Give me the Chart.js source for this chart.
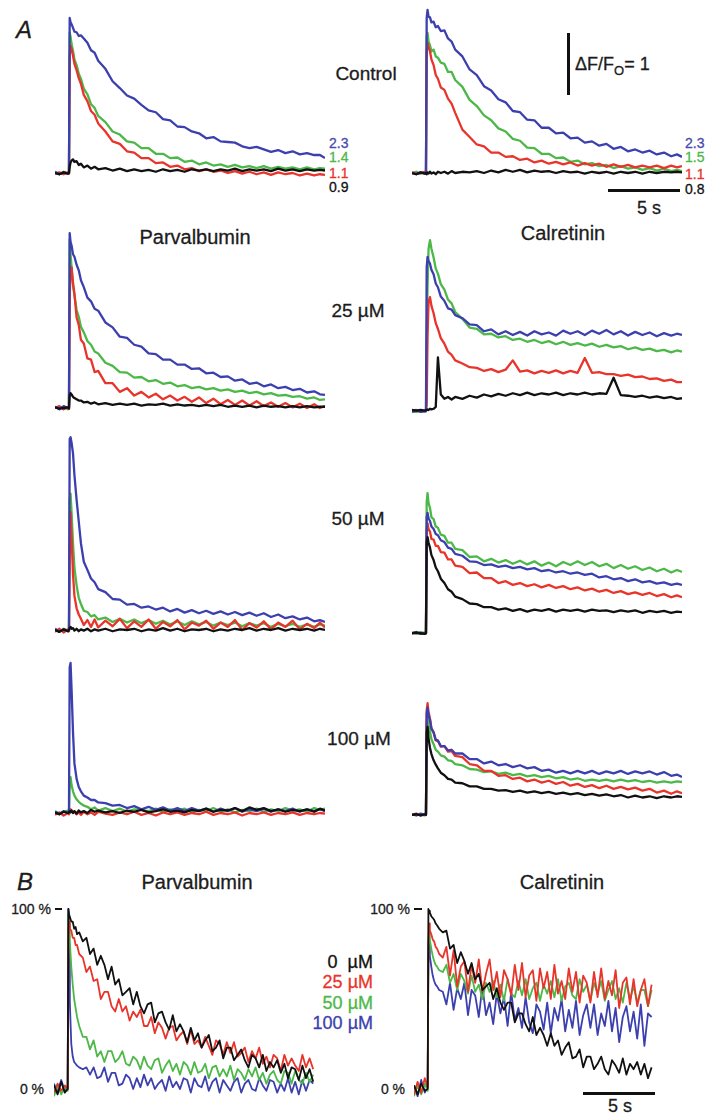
<!DOCTYPE html>
<html>
<head>
<meta charset="utf-8">
<title>Calcium transients - Parvalbumin / Calretinin</title>
<script src="https://cdn.jsdelivr.net/npm/chart.js@4.4.1/dist/chart.umd.min.js"></script>
<style>
  html, body { margin: 0; padding: 0; background: #fff; }
  #fig { position: relative; width: 723px; height: 1115px; overflow: hidden; background: #fff; }
  #fig canvas { position: absolute; }
  .t { position: absolute; font-family: 'Liberation Sans', Arial, sans-serif; white-space: nowrap; line-height: 1; color: #1c1c1c; -webkit-text-stroke: 0.3px currentColor; }
  .c { transform: translate(-50%, -50%); }
  .l { transform: translate(0, -50%); }
  .r { transform: translate(-100%, -50%); }
  .bar { position: absolute; background: #111; }
</style>
</head>
<body>
<div id="fig">
  <div class="t l" style="left:16px;top:30px;font-size:24px;font-style:italic">A</div>
  <div class="t c" style="left:366px;top:73px;font-size:19px">Control</div>
  <div class="bar" style="left:567px;top:33px;width:3px;height:62px"></div>
  <div class="t l" style="left:575px;top:64px;font-size:18px">&Delta;F/F<span style="font-size:13px;position:relative;top:5px">O</span>= 1</div>

  <div class="t l" style="left:329px;top:143px;font-size:14px;color:#4a4ab0">2.3</div>
  <div class="t l" style="left:329px;top:157px;font-size:14px;color:#4cb848">1.4</div>
  <div class="t l" style="left:329px;top:173px;font-size:14px;color:#e8342a">1.1</div>
  <div class="t l" style="left:329px;top:187px;font-size:14px;color:#111">0.9</div>
  <div class="t l" style="left:685px;top:143px;font-size:14px;color:#4a4ab0">2.3</div>
  <div class="t l" style="left:685px;top:157px;font-size:14px;color:#4cb848">1.5</div>
  <div class="t l" style="left:685px;top:174px;font-size:14px;color:#e8342a">1.1</div>
  <div class="t l" style="left:685px;top:189px;font-size:14px;color:#111">0.8</div>
  <div class="bar" style="left:608px;top:189px;width:72px;height:3px"></div>
  <div class="t c" style="left:649px;top:208px;font-size:18px">5 s</div>

  <div class="t c" style="left:195px;top:237px;font-size:20px">Parvalbumin</div>
  <div class="t c" style="left:563px;top:233px;font-size:20px">Calretinin</div>
  <div class="t c" style="left:358px;top:310px;font-size:19px">25 µM</div>
  <div class="t c" style="left:358px;top:518px;font-size:19px">50 µM</div>
  <div class="t c" style="left:359px;top:738px;font-size:19px">100 µM</div>

  <div class="t l" style="left:17px;top:882px;font-size:24px;font-style:italic">B</div>
  <div class="t c" style="left:197px;top:882px;font-size:20px">Parvalbumin</div>
  <div class="t c" style="left:562px;top:882px;font-size:20px">Calretinin</div>
  <div class="t r" style="left:51px;top:909px;font-size:14px">100 %</div>
  <div class="bar" style="left:55px;top:908px;width:7px;height:2px"></div>
  <div class="t r" style="left:44px;top:1089px;font-size:14px">0 %</div>
  <div class="t r" style="left:410px;top:909px;font-size:14px">100 %</div>
  <div class="bar" style="left:414px;top:908px;width:8px;height:2px"></div>
  <div class="t r" style="left:405px;top:1089px;font-size:14px">0 %</div>
  <div class="t r" style="left:373px;top:962px;font-size:18px;color:#111">0&nbsp;&nbsp;µM</div>
  <div class="t r" style="left:373px;top:982px;font-size:18px;color:#e8342a">25 µM</div>
  <div class="t r" style="left:373px;top:1003px;font-size:18px;color:#4cb848">50 µM</div>
  <div class="t r" style="left:373px;top:1023px;font-size:18px;color:#3c3fae">100 µM</div>
  <div class="bar" style="left:583px;top:1092px;width:72px;height:3px"></div>
  <div class="t c" style="left:620px;top:1106px;font-size:18px">5 s</div>
</div>

<script>
// time base for panel A (s), stimulus step at 1 s
const T = [0, 0.3, 0.6, 0.9, 0.97, 1.02, 1.08, 1.15, 1.25, 1.35, 1.5, 1.65, 1.8, 2.0, 2.25, 2.5, 2.75, 3.0, 3.5, 4.0,
           4.5, 5.0, 5.5, 6.0, 6.5, 7.0, 7.5, 8.0, 8.5, 9.0, 9.5, 10.0, 10.5, 11.0, 11.5, 12.0, 12.5, 13.0, 13.5, 14.0,
           14.5, 15.0, 15.5, 16.0, 16.5, 17.0, 17.5, 18.0, 18.4, 18.75];
// time base for panel B (s)
const TB = [0,0.25,0.5,0.75,0.95,1,1.05,1.1,1.2,1.3,1.4,1.5,1.6,1.75,2,2.25,2.5,2.75,3,3.25,3.5,3.75,4,4.25,4.5,4.75,5,
            5.25,5.5,5.75,6,6.25,6.5,6.75,7,7.25,7.5,7.75,8,8.25,8.5,8.75,9,9.25,9.5,9.75,10,10.25,10.5,10.75,11,11.25,
            11.5,11.75,12,12.25,12.5,12.75,13,13.25,13.5,13.75,14,14.25,14.5,14.75,15,15.25,15.5,15.75,16,16.25,16.5,
            16.75,17,17.25,17.5,17.75,18];

const seriesNames = ['0 µM', '25 µM', '50 µM', '100 µM'];

// Panel A, dF/F0 -- Control, Parvalbumin column
const ctlP_black = [0.00,-0.02,0.01,-0.01,0.00,0.10,0.17,0.20,0.22,0.18,0.19,0.13,0.15,0.09,0.12,0.07,0.10,0.06,0.08,0.04,0.07,0.03,0.06,0.03,0.05,0.02,0.06,0.03,0.05,0.02,0.06,0.04,0.06,0.03,0.06,0.04,0.07,0.03,0.06,0.04,0.06,0.03,0.07,0.04,0.06,0.03,0.06,0.04,0.05,0.04];
const ctlP_red = [-0.01,0.01,-0.02,0.01,-0.01,1.90,2.05,2.00,1.89,1.76,1.66,1.53,1.44,1.26,1.16,1.00,0.94,0.80,0.67,0.51,0.47,0.35,0.33,0.24,0.24,0.16,0.17,0.10,0.12,0.06,0.08,0.03,0.06,0.02,0.04,0.00,0.03,-0.01,0.02,-0.02,0.01,-0.03,0.01,-0.02,0.00,-0.04,-0.01,-0.04,-0.02,-0.03];
const ctlP_green = [0.01,-0.02,0.02,-0.01,0.00,2.26,2.20,2.08,1.97,1.83,1.74,1.60,1.52,1.36,1.27,1.11,1.05,0.92,0.82,0.67,0.62,0.51,0.49,0.40,0.40,0.31,0.31,0.24,0.25,0.18,0.20,0.14,0.17,0.12,0.14,0.10,0.13,0.09,0.11,0.08,0.11,0.07,0.10,0.07,0.09,0.06,0.09,0.06,0.08,0.07];
const ctlP_blue = [0.02,-0.02,0.01,-0.01,0.00,2.50,2.43,2.40,2.34,2.28,2.27,2.21,2.22,2.17,2.10,1.98,1.94,1.81,1.68,1.48,1.37,1.25,1.20,1.10,1.01,0.98,0.87,0.85,0.75,0.74,0.67,0.64,0.56,0.58,0.51,0.50,0.49,0.43,0.40,0.42,0.38,0.34,0.37,0.32,0.35,0.30,0.32,0.29,0.29,0.24];

// Control, Calretinin column
const ctlC_black = [0.00,-0.02,0.01,-0.01,0.00,-0.02,0.01,-0.01,0.02,-0.01,0.01,-0.02,0.02,0.00,0.02,-0.01,0.03,0.00,0.02,0.01,0.03,0.00,0.04,0.01,0.05,0.02,0.05,0.01,0.04,0.02,0.03,0.00,0.03,0.01,0.02,-0.01,0.02,0.00,0.02,-0.01,0.02,0.00,0.02,-0.01,0.02,0.00,0.02,0.01,0.02,0.01];
const ctlC_red = [0.01,-0.01,0.00,0.02,0.00,1.95,2.10,2.03,1.96,1.83,1.74,1.58,1.52,1.38,1.34,1.20,1.12,0.97,0.70,0.58,0.46,0.43,0.33,0.33,0.26,0.27,0.21,0.23,0.17,0.20,0.15,0.18,0.14,0.17,0.12,0.16,0.12,0.15,0.10,0.14,0.10,0.13,0.09,0.12,0.09,0.12,0.08,0.12,0.09,0.11];
const ctlC_green = [0.00,0.02,-0.01,0.01,0.00,2.20,2.26,2.12,2.06,1.96,1.99,1.88,1.86,1.78,1.76,1.63,1.63,1.50,1.39,1.18,1.08,0.93,0.85,0.72,0.67,0.55,0.52,0.41,0.40,0.31,0.31,0.24,0.25,0.18,0.20,0.14,0.16,0.11,0.13,0.08,0.11,0.07,0.09,0.05,0.08,0.04,0.07,0.03,0.05,0.03];
const ctlC_blue = [0.00,-0.02,0.01,-0.01,0.00,2.50,2.63,2.52,2.51,2.43,2.44,2.35,2.37,2.29,2.30,2.17,2.12,1.99,1.88,1.67,1.58,1.40,1.33,1.19,1.14,1.00,0.98,0.86,0.85,0.73,0.73,0.64,0.65,0.56,0.57,0.49,0.51,0.44,0.47,0.39,0.42,0.35,0.38,0.33,0.36,0.30,0.33,0.27,0.30,0.26];

// 25 µM
const p25_black = [0.01,-0.01,0.00,0.01,-0.01,0.20,0.24,0.22,0.18,0.16,0.14,0.12,0.12,0.09,0.10,0.07,0.09,0.06,0.08,0.05,0.07,0.05,0.07,0.04,0.06,0.05,0.07,0.04,0.06,0.04,0.05,0.03,0.05,0.03,0.05,0.02,0.04,0.02,0.04,0.01,0.04,0.02,0.03,0.01,0.03,0.01,0.03,0.01,0.02,0.02];
const p25_red = [0.00,0.03,-0.02,0.01,-0.01,1.80,2.20,2.27,2.02,1.84,1.46,1.34,1.10,1.04,0.80,0.78,0.58,0.60,0.40,0.40,0.26,0.32,0.20,0.26,0.17,0.23,0.14,0.20,0.12,0.18,0.10,0.17,0.08,0.15,0.06,0.13,0.05,0.12,0.04,0.11,0.03,0.09,0.02,0.08,0.01,0.07,0.00,0.06,0.00,0.03];
const p25_green = [0.01,-0.01,0.02,-0.02,0.00,2.72,2.48,2.27,1.98,1.82,1.58,1.47,1.31,1.22,1.08,1.02,0.91,0.88,0.73,0.68,0.58,0.57,0.49,0.50,0.43,0.45,0.39,0.41,0.35,0.37,0.32,0.34,0.30,0.32,0.28,0.30,0.26,0.28,0.24,0.26,0.22,0.24,0.20,0.21,0.18,0.19,0.15,0.17,0.13,0.14];
const p25_blue = [0.02,-0.02,0.03,0.00,0.01,2.82,2.68,2.62,2.48,2.44,2.31,2.22,2.06,1.95,1.78,1.72,1.60,1.57,1.38,1.30,1.15,1.13,1.02,0.99,0.88,0.87,0.78,0.78,0.70,0.70,0.63,0.64,0.56,0.57,0.50,0.51,0.44,0.46,0.39,0.41,0.35,0.38,0.32,0.34,0.29,0.31,0.25,0.27,0.22,0.21];
const c25_black = [0.00,-0.01,0.00,-0.01,0.00,0.00,0.01,0.00,0.02,0.01,0.02,0.05,0.85,0.25,0.18,0.21,0.17,0.21,0.18,0.23,0.20,0.25,0.22,0.26,0.23,0.27,0.24,0.28,0.24,0.27,0.25,0.28,0.24,0.27,0.25,0.28,0.25,0.27,0.26,0.52,0.24,0.23,0.21,0.23,0.20,0.22,0.19,0.21,0.18,0.19];
const c25_red = [-0.01,0.00,-0.02,-0.01,-0.01,0.10,1.20,1.75,1.82,1.68,1.56,1.40,1.31,1.16,1.07,0.94,0.89,0.80,0.75,0.69,0.68,0.63,0.66,0.61,0.65,0.80,0.62,0.64,0.59,0.63,0.60,0.64,0.59,0.63,0.60,0.84,0.60,0.61,0.58,0.58,0.55,0.57,0.53,0.54,0.50,0.51,0.47,0.49,0.45,0.45];
const c25_green = [-0.02,-0.03,-0.01,-0.02,-0.02,1.00,2.00,2.60,2.74,2.60,2.46,2.28,2.20,2.03,1.94,1.78,1.72,1.58,1.47,1.33,1.31,1.22,1.23,1.17,1.19,1.13,1.15,1.10,1.13,1.08,1.11,1.06,1.10,1.05,1.08,1.04,1.07,1.02,1.05,1.01,1.03,0.98,1.01,0.97,0.99,0.95,0.97,0.93,0.96,0.94];
const c25_blue = [-0.03,-0.01,-0.03,-0.02,-0.02,2.30,2.47,2.40,2.36,2.26,2.19,2.04,1.98,1.83,1.76,1.64,1.62,1.53,1.48,1.38,1.37,1.27,1.30,1.22,1.27,1.21,1.26,1.20,1.27,1.22,1.25,1.20,1.28,1.23,1.27,1.21,1.28,1.23,1.29,1.22,1.27,1.20,1.26,1.21,1.25,1.19,1.24,1.20,1.23,1.21];

// 50 µM
const p50_black = [0.00,-0.03,0.01,-0.02,0.00,0.03,0.05,0.02,0.03,-0.01,0.02,-0.02,0.01,-0.01,0.02,-0.02,0.01,-0.01,0.02,-0.02,0.01,0.00,0.02,-0.02,0.01,-0.01,0.03,-0.01,0.02,-0.02,0.01,0.00,0.02,-0.02,0.01,-0.01,0.02,0.00,0.03,-0.01,0.02,0.00,0.03,-0.01,0.02,0.00,0.02,-0.01,0.02,0.00];
const p50_red = [-0.03,0.02,-0.04,0.01,-0.02,1.20,1.90,1.50,0.90,0.55,0.35,0.25,0.18,0.08,0.16,0.05,0.17,0.04,0.15,0.06,0.18,0.03,0.14,0.05,0.17,0.02,0.13,0.06,0.16,0.01,0.12,0.07,0.15,0.02,0.12,0.05,0.16,0.00,0.11,0.04,0.14,0.01,0.12,0.05,0.15,0.01,0.10,0.03,0.12,0.04];
const p50_green = [0.01,-0.02,0.02,-0.01,0.00,2.10,2.20,1.90,1.40,1.00,0.72,0.52,0.42,0.31,0.29,0.22,0.24,0.17,0.20,0.13,0.18,0.12,0.17,0.11,0.16,0.10,0.15,0.09,0.14,0.08,0.14,0.09,0.13,0.07,0.12,0.08,0.12,0.06,0.11,0.07,0.11,0.05,0.10,0.06,0.10,0.05,0.09,0.05,0.09,0.07];
const p50_blue = [0.02,-0.03,0.01,-0.02,0.00,3.08,3.11,3.02,2.85,2.50,2.10,1.75,1.40,1.10,0.97,0.83,0.77,0.66,0.61,0.50,0.49,0.41,0.42,0.36,0.38,0.33,0.36,0.30,0.34,0.28,0.32,0.27,0.31,0.26,0.30,0.25,0.29,0.24,0.28,0.23,0.27,0.21,0.25,0.19,0.22,0.17,0.20,0.14,0.16,0.13];
const c50_black = [-0.02,-0.01,-0.02,-0.03,-0.02,1.45,1.53,1.44,1.36,1.24,1.16,1.04,0.98,0.86,0.79,0.69,0.65,0.57,0.53,0.46,0.45,0.40,0.40,0.36,0.38,0.34,0.37,0.33,0.36,0.34,0.37,0.33,0.36,0.34,0.36,0.33,0.36,0.34,0.35,0.32,0.35,0.33,0.35,0.31,0.34,0.32,0.34,0.31,0.33,0.32];
const c50_red = [-0.02,-0.01,-0.03,-0.02,-0.02,1.65,1.75,1.66,1.62,1.50,1.49,1.39,1.39,1.29,1.28,1.17,1.17,1.07,1.05,0.95,0.96,0.87,0.87,0.79,0.82,0.76,0.79,0.74,0.77,0.72,0.76,0.71,0.74,0.69,0.72,0.67,0.70,0.65,0.68,0.63,0.66,0.61,0.64,0.60,0.63,0.58,0.61,0.56,0.59,0.56];
const c50_green = [-0.01,-0.03,0.00,-0.02,-0.01,2.10,2.24,2.08,2.00,1.85,1.82,1.70,1.68,1.57,1.55,1.44,1.44,1.34,1.32,1.21,1.22,1.14,1.18,1.12,1.16,1.10,1.15,1.09,1.14,1.07,1.12,1.06,1.13,1.08,1.14,1.08,1.13,1.06,1.10,1.03,1.08,1.02,1.06,1.00,1.04,0.98,1.02,0.96,1.00,0.97];
const c50_blue = [-0.02,0.00,-0.03,-0.01,-0.02,1.85,1.92,1.83,1.79,1.70,1.66,1.58,1.56,1.48,1.45,1.36,1.34,1.26,1.23,1.14,1.13,1.08,1.09,1.05,1.07,1.03,1.05,1.01,1.03,0.98,1.00,0.96,0.98,0.94,0.96,0.92,0.94,0.88,0.90,0.85,0.87,0.82,0.85,0.80,0.82,0.78,0.80,0.76,0.78,0.76];

// 100 µM
const p100_black = [0.01,-0.02,0.02,0.00,0.01,0.03,0.01,0.04,0.00,0.03,-0.01,0.04,0.01,0.03,0.00,0.05,0.02,0.04,0.01,0.03,0.00,0.04,0.02,0.05,0.01,0.03,0.06,0.02,0.04,0.01,0.05,0.03,0.07,0.02,0.05,0.04,0.08,0.03,0.09,0.05,0.08,0.03,0.06,0.02,0.05,0.03,0.06,0.02,0.07,0.04];
const p100_red = [-0.03,0.01,-0.04,0.00,-0.02,0.02,0.06,0.04,0.01,0.03,-0.02,0.01,-0.03,0.02,-0.02,0.01,-0.03,0.02,-0.01,-0.03,0.01,-0.02,0.02,-0.03,0.00,-0.04,0.01,-0.02,0.01,-0.03,0.00,-0.02,0.02,-0.03,0.00,-0.02,0.01,-0.04,0.00,-0.02,0.01,-0.03,0.00,-0.02,0.01,-0.03,0.00,-0.02,0.00,-0.01];
const p100_green = [0.03,-0.01,0.02,0.04,0.00,0.50,0.58,0.45,0.35,0.28,0.22,0.18,0.15,0.12,0.10,0.06,0.09,0.04,0.08,0.03,0.07,0.02,0.06,0.05,0.03,0.07,0.02,0.06,0.04,0.07,0.01,0.05,0.03,0.08,0.02,0.06,0.01,0.05,0.03,0.07,0.02,0.06,0.03,0.08,0.04,0.06,0.02,0.08,0.05,0.07];
const p100_blue = [0.02,-0.02,0.03,0.00,0.01,2.35,2.42,2.00,1.30,0.80,0.55,0.42,0.35,0.28,0.25,0.21,0.21,0.17,0.16,0.12,0.13,0.08,0.11,0.06,0.10,0.05,0.09,0.04,0.08,0.03,0.08,0.04,0.07,0.02,0.07,0.03,0.08,0.02,0.06,0.03,0.07,0.02,0.06,0.03,0.07,0.02,0.06,0.03,0.06,0.03];
const c100_black = [-0.03,-0.02,-0.04,-0.02,-0.03,1.30,1.39,1.20,1.05,0.95,0.85,0.78,0.72,0.65,0.61,0.55,0.54,0.49,0.48,0.43,0.43,0.39,0.39,0.36,0.37,0.34,0.36,0.33,0.35,0.32,0.34,0.31,0.33,0.30,0.32,0.29,0.31,0.28,0.30,0.27,0.29,0.25,0.28,0.25,0.27,0.24,0.27,0.25,0.27,0.26];
const c100_red = [-0.03,-0.01,-0.04,-0.02,-0.02,1.65,1.77,1.63,1.52,1.36,1.30,1.17,1.16,1.07,1.08,0.99,1.00,0.92,0.90,0.79,0.77,0.68,0.68,0.60,0.61,0.55,0.57,0.51,0.54,0.49,0.52,0.47,0.50,0.44,0.47,0.42,0.45,0.40,0.44,0.39,0.42,0.38,0.41,0.36,0.39,0.33,0.36,0.31,0.35,0.32];
const c100_green = [-0.03,-0.02,-0.03,-0.04,-0.02,1.45,1.55,1.42,1.31,1.19,1.11,1.02,0.99,0.93,0.91,0.85,0.84,0.79,0.77,0.71,0.70,0.66,0.67,0.63,0.65,0.61,0.63,0.59,0.61,0.58,0.60,0.56,0.58,0.54,0.56,0.52,0.54,0.52,0.54,0.51,0.54,0.51,0.53,0.50,0.52,0.49,0.51,0.49,0.51,0.50];
const c100_blue = [-0.02,-0.04,-0.01,-0.03,-0.02,1.60,1.70,1.58,1.50,1.36,1.30,1.18,1.17,1.08,1.08,1.01,1.02,0.96,0.96,0.87,0.87,0.80,0.83,0.77,0.79,0.74,0.77,0.72,0.74,0.68,0.70,0.65,0.68,0.64,0.68,0.64,0.68,0.63,0.67,0.64,0.68,0.63,0.67,0.64,0.67,0.62,0.66,0.60,0.62,0.58];

// Panel B, normalised to peak (%), sampled on TB
const nP_black = [2,-3,4,-2,0,100,97,97,93,93,89,90,86,87,82,
  84,75,78,69,74,69,61,68,58,61,52,54,56,47,54,46,42,47,48,37,42,43,37,33,41,32,36,32,26,34,
  27,31,23,27,30,21,23,27,17,23,23,16,19,22,16,12,19,17,12,19,10,15,12,16,9,14,6,12,11,5,13,6,11,4];
const nP_red = [-2,3,-1,2,0,85,93,89,88,84,84,80,80,75,73,
  65,68,60,61,50,54,54,46,43,50,43,46,38,43,40,44,35,35,40,31,37,34,28,34,35,27,30,32,25,33,
  25,27,23,29,24,19,27,25,19,26,20,26,18,20,23,15,21,17,23,14,18,12,19,17,10,19,13,17,13,10,19,12,17,11];
const nP_green = [-4,2,-3,1,-1,98,92,82,68,58,50,45,40,35,29,
  29,22,27,18,21,15,21,21,15,17,21,14,13,18,16,11,18,13,11,16,17,9,13,16,10,14,8,15,13,8,
  15,9,10,14,6,12,13,7,11,7,13,5,11,9,5,11,7,12,5,9,3,8,10,5,3,10,9,3,10,5,3,9,4,8];
const nP_blue = [3,-2,5,-1,1,100,75,48,25,18,15,14,13,12,11,
  12,8,12,6,7,12,4,9,9,2,3,8,6,0,6,1,8,2,6,0,3,5,-1,7,1,4,0,6,5,-2,
  6,2,1,7,-1,4,6,-2,5,2,-1,4,6,-2,3,5,0,-1,6,2,-1,5,4,-2,3,-1,6,-2,4,-3,5,-1,5,3];
const nC_black = [2,-3,3,-1,0,100,99,98,96,95,94,92,91,89,87,
  88,78,80,70,76,71,64,70,61,64,55,57,59,50,56,48,44,48,48,37,42,42,36,32,40,30,34,30,24,31,
  24,27,19,23,26,17,18,22,12,18,18,11,14,18,11,8,16,13,9,17,8,14,11,15,8,14,6,12];
const nC_red = [-3,4,-2,6,1,80,92,88,86,83,82,79,78,75,73,
  79,63,77,57,68,71,54,69,59,72,54,64,72,55,65,51,66,61,52,69,55,70,51,63,66,49,67,56,65,50,
  69,53,60,50,67,54,65,48,63,59,48,65,51,67,50,60,52,66,45,59,62,47,61,46,55,61,46,58];
const nC_green = [-4,2,-3,3,-1,80,87,83,78,74,71,69,68,66,65,
  69,59,64,55,64,60,53,63,54,58,50,59,54,60,51,58,49,61,53,51,60,52,61,50,56,59,49,58,53,60,
  51,61,49,57,59,52,50,61,54,58,49,59,53,60,49,55,60,50,56,48,59,50,57,48,55,55,46,55];
const nC_blue = [2,-4,5,-2,1,75,81,74,68,63,60,58,57,55,54,
  47,59,44,56,50,59,41,55,52,40,57,41,48,36,53,42,51,35,54,38,45,34,51,37,31,47,43,33,48,31,
  45,38,50,32,44,34,49,30,41,47,34,47,30,42,35,49,32,45,26,40,46,32,43,28,47,24,42,40];

const colors = { black: '#111111', red: '#e8342a', green: '#4cb848', blue: '#3c3fae' };

document.addEventListener('DOMContentLoaded', function() {
    // A: 62 px per dF/F0 unit, 14.4 px per second
    const A = { pxPerUnit: 62, above: 200, below: 25, time: T, order: ['black', 'blue', 'red', 'green'], lw: 2.3 };
    drawPanel(55, 173, A, [ctlP_black, ctlP_blue, ctlP_red, ctlP_green]);
    drawPanel(412, 173, A, [ctlC_black, ctlC_blue, ctlC_red, ctlC_green]);
    drawPanel(55, 408, A, [p25_black, p25_blue, p25_red, p25_green]);
    drawPanel(412, 410, A, [c25_black, c25_blue, c25_red, c25_green]);
    drawPanel(55, 630, A, [p50_black, p50_blue, p50_red, p50_green]);
    drawPanel(412, 632, A, [c50_black, c50_blue, c50_red, c50_green]);
    drawPanel(55, 813, A, [p100_black, p100_blue, p100_red, p100_green]);
    drawPanel(412, 813, A, [c100_black, c100_blue, c100_red, c100_green]);

    // B: 1.8 px per percent
    const B = { pxPerUnit: 1.8, above: 200, below: 15, time: TB, order: ['black', 'red', 'green', 'blue'], lw: 1.8 };
    drawPanel(54, 1089, B, [nP_black, nP_red, nP_green, nP_blue]);
    drawPanel(414, 1089, B, [nC_black, nC_red, nC_green, nC_blue]);
});

function drawPanel(left, baseline, geo, traces) {
    const canvas = document.createElement('canvas');
    const w = 270, h = geo.above + geo.below;
    canvas.width = w;
    canvas.height = h;
    canvas.style.left = left + 'px';
    canvas.style.top = (baseline - geo.above) + 'px';
    canvas.style.width = w + 'px';
    canvas.style.height = h + 'px';
    document.getElementById('fig').appendChild(canvas);

    const datasets = traces.map((vals, k) => ({
        label: geo.order[k],
        data: vals.map((v, i) => ({ x: geo.time[i], y: v })),
        borderColor: colors[geo.order[k]],
        borderWidth: geo.lw,
        borderJoinStyle: 'round',
        clip: false
    }));

    new Chart(canvas.getContext('2d'), {
        type: 'line',
        data: { datasets: datasets },
        options: {
            responsive: false,
            animation: false,
            events: [],
            layout: { padding: 0 },
            elements: { point: { radius: 0 }, line: { tension: 0 } },
            plugins: { legend: { display: false }, tooltip: { enabled: false } },
            scales: {
                x: { type: 'linear', display: false, min: 0, max: w / 14.4 },
                y: { display: false, min: -geo.below / geo.pxPerUnit, max: geo.above / geo.pxPerUnit }
            }
        }
    });
}
</script>
</body>
</html>
